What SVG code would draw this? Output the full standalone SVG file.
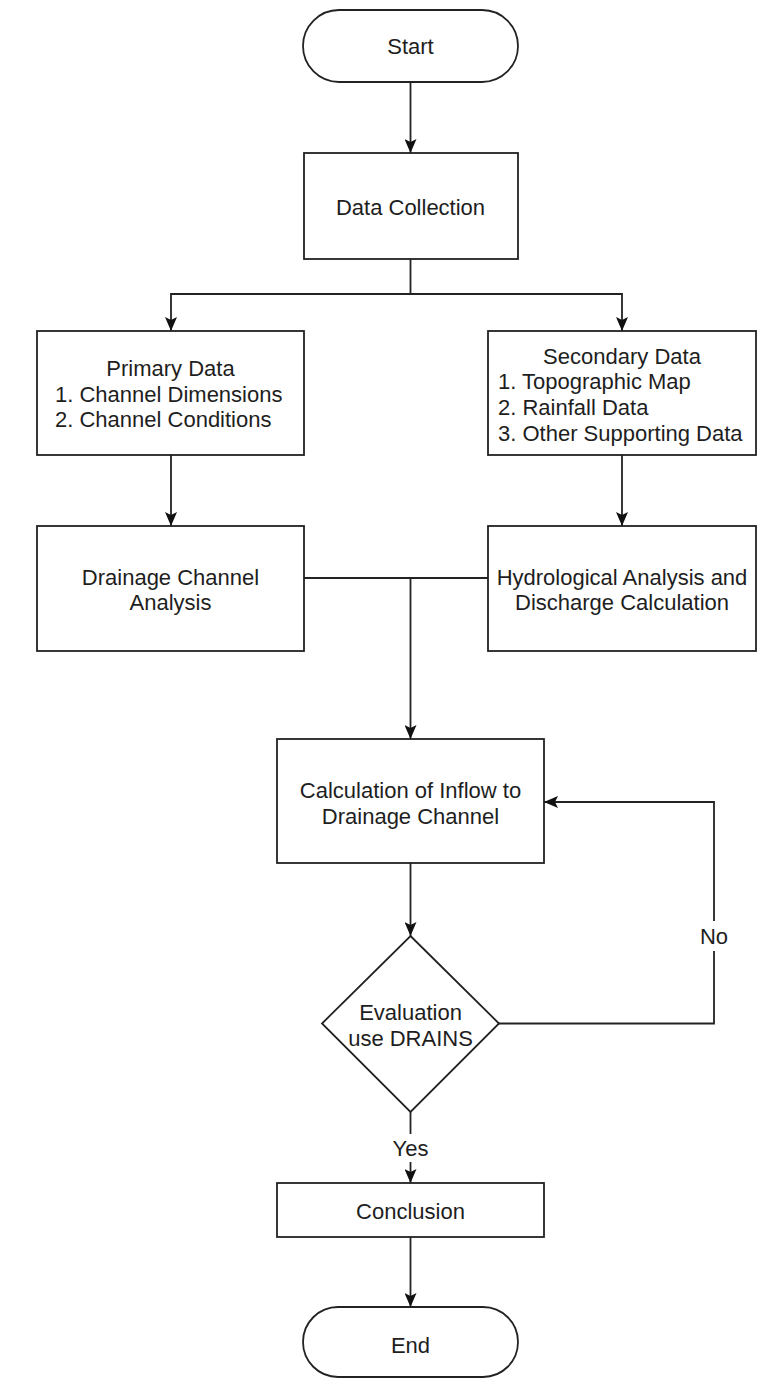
<svg xmlns="http://www.w3.org/2000/svg" width="773" height="1379" viewBox="0 0 773 1379">
<style>
  .shape { fill: #ffffff; stroke: #222222; stroke-width: 1.8; }
  .line { fill: none; stroke: #222222; stroke-width: 1.8; }
  .arr { marker-end: url(#ah); }
  text { font-family: "Liberation Sans", Arial, sans-serif; font-size: 22px; fill: #1e1e1e; dominant-baseline: central; }
  .c { text-anchor: middle; }
  .s { text-anchor: start; }
  .lbl { fill: #ffffff; stroke: none; }
</style>
<defs>
  <marker id="ah" viewBox="0 0 14 12" refX="14" refY="6" markerWidth="14" markerHeight="12" markerUnits="userSpaceOnUse" orient="auto">
    <path d="M0,0 L14,6 L0,12 L3,6 z" fill="#111111"/>
  </marker>
</defs>
<rect width="773" height="1379" fill="#ffffff"/>

<g id="connectors">
  <path class="line arr" d="M410.5,82 V153"/>
  <path class="line arr" d="M410.5,259 V294 H171 V331"/>
  <path class="line arr" d="M410.5,294 H622 V331"/>
  <path class="line arr" d="M171,455 V526"/>
  <path class="line arr" d="M622,455 V526"/>
  <path class="line arr" d="M304,578 H410.5 V739"/>
  <path class="line" d="M488,578 H410.5"/>
  <path class="line arr" d="M410.5,863 V936"/>
  <path class="line arr" d="M410.5,1112 V1183"/>
  <path class="line arr" d="M499,1023.5 H714 V802 H544"/>
  <path class="line arr" d="M410.5,1237 V1307"/>
  <rect class="lbl" x="698" y="921" width="32" height="30"/>
  <text class="c" x="714" y="936">No</text>
  <rect class="lbl" x="390" y="1134" width="42" height="28"/>
  <text class="c" x="410.5" y="1148">Yes</text>
</g>

<g id="start">
  <rect class="shape" x="303" y="10" width="215" height="72" rx="36" ry="36"/>
  <text class="c" x="410.5" y="46">Start</text>
</g>

<g id="data-collection">
  <rect class="shape" x="304" y="153" width="214" height="106"/>
  <text class="c" x="410.5" y="207">Data Collection</text>
</g>

<g id="primary-data">
  <rect class="shape" x="37" y="331" width="267" height="124"/>
  <text class="c" x="170.5" y="368">Primary Data</text>
  <text class="s" x="55" y="394">1. Channel Dimensions</text>
  <text class="s" x="55" y="419">2. Channel Conditions</text>
</g>

<g id="secondary-data">
  <rect class="shape" x="488" y="331" width="268" height="124"/>
  <text class="c" x="622" y="356">Secondary Data</text>
  <text class="s" x="498" y="381">1. Topographic Map</text>
  <text class="s" x="498" y="407">2. Rainfall Data</text>
  <text class="s" x="498" y="433">3. Other Supporting Data</text>
</g>

<g id="drainage-analysis">
  <rect class="shape" x="37" y="526" width="267" height="125"/>
  <text class="c" x="170.5" y="577">Drainage Channel</text>
  <text class="c" x="170.5" y="602">Analysis</text>
</g>

<g id="hydrological-analysis">
  <rect class="shape" x="488" y="526" width="268" height="125"/>
  <text class="c" x="622" y="577">Hydrological Analysis and</text>
  <text class="c" x="622" y="602">Discharge Calculation</text>
</g>

<g id="inflow-calculation">
  <rect class="shape" x="277" y="739" width="267" height="124"/>
  <text class="c" x="410.5" y="790">Calculation of Inflow to</text>
  <text class="c" x="410.5" y="816">Drainage Channel</text>
</g>

<g id="evaluation">
  <polygon class="shape" points="410.5,936 499,1023.5 410.5,1112 322,1023.5"/>
  <text class="c" x="410.5" y="1012">Evaluation</text>
  <text class="c" x="410.5" y="1038">use DRAINS</text>
</g>

<g id="conclusion">
  <rect class="shape" x="277" y="1183" width="267" height="54"/>
  <text class="c" x="410.5" y="1211">Conclusion</text>
</g>

<g id="end">
  <rect class="shape" x="303" y="1307" width="215" height="70" rx="35" ry="35"/>
  <text class="c" x="410.5" y="1345">End</text>
</g>
</svg>
